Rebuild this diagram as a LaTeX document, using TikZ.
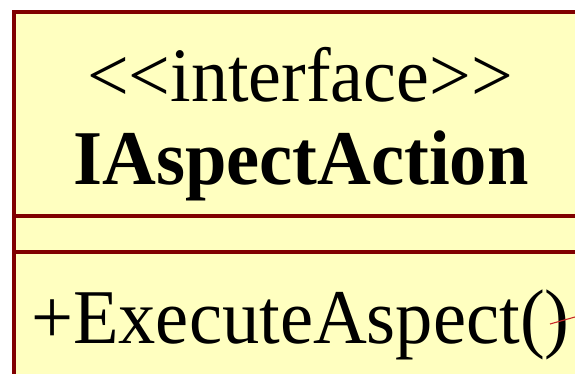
\documentclass[tikz,border=0pt]{standalone}
\usepackage{fontspec}
\setmainfont{Liberation Serif}[Ligatures=TeXOff]
\definecolor{umlfill}{RGB}{255,255,192}
\definecolor{umlborder}{RGB}{128,0,0}
\definecolor{linkred}{RGB}{200,40,40}
\tikzset{
  umltext/.style={font=\fontsize{74}{80}\selectfont, text=black, inner sep=0pt},
  umlline/.style={draw=umlborder, line width=3.6pt},
}
\begin{document}
\begin{tikzpicture}[x=1pt,y=-1pt]
\useasboundingbox (0,0) rectangle (575,374);
\fill[white] (0,0) rectangle (575,374);
\begin{scope}
\clip (0,0) rectangle (575,374);
\node[umlline, fill=umlfill, anchor=north west, minimum width=620pt, minimum height=420pt, inner sep=0pt] (cls) at (12,10.5) {};
\coordinate (sep1a) at (12,216);
\coordinate (sep1b) at (640,216);
\coordinate (sep2a) at (12,252);
\coordinate (sep2b) at (640,252);
\draw[umlline] (sep1a) -- (sep1b);
\draw[umlline] (sep2a) -- (sep2b);
\node[umltext, anchor=base, yscale=1.04] (stereo) at (300,102) {<<interface>>};
\node[umltext, anchor=base, yscale=1.04, font=\fontsize{74.5}{80}\selectfont\bfseries] (name) at (301,184) {IAspectAction};
\node[umltext, anchor=base west, yscale=1.04, font=\fontsize{74.5}{80}\selectfont] (op) at (31,343) {+ExecuteAspect()};
\coordinate (lk1) at (550,324);
\coordinate (lk2) at (600,310);
\draw[linkred, line width=1.1pt] (lk1) -- (lk2);
\end{scope}
\end{tikzpicture}
\end{document}
